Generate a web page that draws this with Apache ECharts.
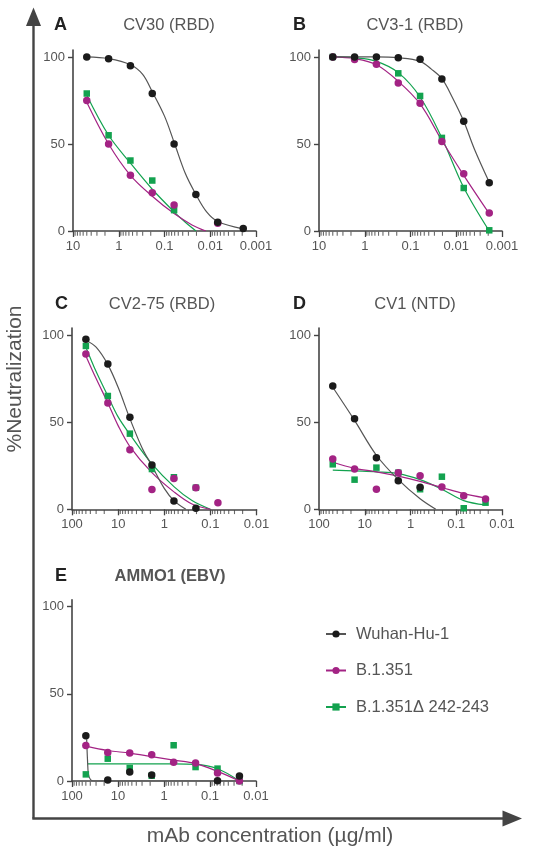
<!DOCTYPE html>
<html><head><meta charset="utf-8">
<script src="https://cdn.jsdelivr.net/npm/echarts@6/dist/echarts.min.js"></script>
<style>html,body{margin:0;padding:0;background:#fff}#c{width:547px;height:853px}</style>
</head><body><div id="c"></div>
<script>
// ---- tick labels ----
const xTicksAB = [10, 1, 0.1, 0.01, 0.001];
const xTicksCDE = [100, 10, 1, 0.1, 0.01];
const yTicks = [0, 50, 100];
const seriesNames = ['Wuhan-Hu-1', 'B.1.351', 'B.1.351\u0394 242-243'];
const panelTitles = ['CV30 (RBD)', 'CV3-1 (RBD)', 'CV2-75 (RBD)', 'CV1 (NTD)', 'AMMO1 (EBV)'];
const panelLetters = ['A', 'B', 'C', 'D', 'E'];

// ---- concentrations (µg/ml) ----
const concAB = [5, 1.667, 0.556, 0.185, 0.0617, 0.0206, 0.00686, 0.0019];
const concCDE = [50, 16.7, 5.56, 1.85, 0.617, 0.206, 0.0686, 0.0229];

// ---- measured points (% neutralization) ----
const A_wuhan = [100, 99, 95, 79, 50, 21, 5, 1.5];
const A_b1351 = [75, 50, 32, 22, 15, null, 4.4, null];
const A_del   = [79, 55, 40.5, 29, 12, null, null, null];

const B_wuhan = [100, 100, 100, 99.6, 98.7, 87.4, 63, 27.7];
const B_b1351 = [100, 98.5, 95.8, 85.1, 73.4, 51.4, 32.9, 10.3];
const B_del   = [100, null, null, 90.6, 77.6, 53.5, 24.7, 0.4];

const C_wuhan = [97.5, 83.4, 52.8, 25.4, 4.8, 0.6, null, null];
const C_b1351 = [89.1, 61, 34.2, 11.3, 17.6, 12.4, 3.8, null];
const C_del   = [93.7, 65, 43.4, 23.1, 18.4, 12.4, null, null];

const D_wuhan = [70.7, 52, 29.6, 16.4, 12.6, null, null, null];
const D_b1351 = [28.9, 23.1, 11.5, 21, 19.3, 12.8, 7.8, 5.9];
const D_del   = [25.8, 17, 23.9, 21, 11.5, 18.7, 0.6, 3.8];

const E_wuhan = [26, 0.6, 5.2, 3.4, null, null, 0.2, 2.9];
const E_b1351 = [20.3, 16.4, 16, 15.1, 10.7, 10.3, 4.6, 0];
const E_del   = [3.8, 12.8, 7.5, 3, 20.5, 8, 7.1, 0];

// ---- fitted curves: [conc, %] ----
const fitA_wuhan = [[5,100],[1.667,99],[0.556,95.5],[0.3,90],[0.185,80],[0.1,66],[0.0617,51],[0.035,33],[0.0206,21],[0.012,11],[0.00686,5.5],[0.0019,1.2]];
const fitA_b1351 = [[5,74],[1.667,50],[0.556,32],[0.185,20],[0.0617,10],[0.025,3.5],[0.0125,0]];
const fitA_del   = [[5,78],[1.667,55],[0.556,39],[0.185,24],[0.0617,11],[0.035,5],[0.0205,0]];

const fitB_wuhan = [[5,100],[0.556,100],[0.185,99.5],[0.0617,97.5],[0.035,93],[0.0206,87.5],[0.0123,77],[0.00686,63],[0.004,47],[0.0019,28]];
const fitB_b1351 = [[5,100],[1.667,99],[0.556,95.5],[0.185,86],[0.0617,73],[0.0206,52],[0.00686,32],[0.0019,10]];
const fitB_del   = [[5,100],[1.667,99.5],[0.556,97.5],[0.185,91],[0.0617,77],[0.0206,53.5],[0.00686,25],[0.0019,0]];

const fitC_wuhan = [[50,97],[30,93],[16.7,83],[10,70],[5.56,52],[3,35],[1.85,25],[1,12],[0.617,5],[0.34,0]];
const fitC_b1351 = [[50,88],[30,75],[16.7,61],[10,48],[5.56,36],[1.85,21],[0.617,10],[0.25,3],[0.1,0]];
const fitC_del   = [[50,93],[30,79],[16.7,65],[10,53],[5.56,43],[1.85,26],[0.617,13],[0.25,5],[0.1,0]];

const fitD_wuhan = [[50,70],[16.7,51],[5.56,31],[1.85,17],[0.617,6],[0.28,0]];
const fitD_b1351 = [[50,27],[16.7,23.5],[5.56,21.5],[1.85,19],[0.617,16],[0.206,12.5],[0.0686,9],[0.023,6.5]];
const fitD_del   = [[50,22.5],[16.7,22],[5.56,21.5],[1.85,20.5],[0.617,17],[0.206,11.5],[0.0686,5],[0.023,2.5]];

const fitE_wuhan = [[48,24],[46,12],[44,4],[40,1],[34,0],[0.0229,0]];
const fitE_b1351 = [[50,20],[16.7,17.5],[5.56,16],[1.85,14],[0.617,12],[0.206,10],[0.0686,5.5],[0.0229,0]];
const fitE_del   = [[46,9.8],[0.617,9.8],[0.206,9.5],[0.0686,7],[0.0229,0]];

// ---- styling ----
const FONT = '"Liberation Sans", Arial, sans-serif';
const AX = '#444';
const TXT = '#555';
const COLORS = ['#1b1b1b', '#a32384', '#13a24f'];
const LINECOLORS = ['#555555', '#a32384', '#13a24f'];
const SYMBOLS = ['circle', 'circle', 'rect'];
const SIZES = [7.5, 7.5, 6.5];

const grids = [
  {left: 73, top: 50, width: 183, height: 181},
  {left: 319, top: 50, width: 183, height: 181},
  {left: 72, top: 328, width: 184.5, height: 181.3},
  {left: 319, top: 328, width: 183, height: 181.3},
  {left: 72, top: 599.7, width: 184, height: 181.3}
];

const panels = [
  {conc: concAB, pts: [A_wuhan, A_b1351, A_del], fits: [fitA_wuhan, fitA_b1351, fitA_del], ticks: xTicksAB},
  {conc: concAB, pts: [B_wuhan, B_b1351, B_del], fits: [fitB_wuhan, fitB_b1351, fitB_del], ticks: xTicksAB},
  {conc: concCDE, pts: [C_wuhan, C_b1351, C_del], fits: [fitC_wuhan, fitC_b1351, fitC_del], ticks: xTicksCDE},
  {conc: concCDE, pts: [D_wuhan, D_b1351, D_del], fits: [fitD_wuhan, fitD_b1351, fitD_del], ticks: xTicksCDE},
  {conc: concCDE, pts: [E_wuhan, E_b1351, E_del], fits: [fitE_wuhan, fitE_b1351, fitE_del], ticks: xTicksCDE}
];

// log-axis minor tick positions (2..9 × each decade)
function minorTicks(ticks) {
  const out = [];
  const lo = Math.min(...ticks);
  const hi = Math.max(...ticks);
  for (let d = lo; d < hi * 0.999; d *= 10) {
    for (let k = 2; k <= 9; k++) out.push(+(d * k).toPrecision(6));
  }
  return out;
}

const xAxes = [], yAxes = [], series = [];
panels.forEach((p, i) => {
  const mn = Math.min(...p.ticks), mx = Math.max(...p.ticks);
  xAxes.push({
    type: 'log', gridIndex: i, min: mn, max: mx, inverse: true,
    axisLine: {show: true, lineStyle: {color: AX, width: 1.6}},
    axisTick: {customValues: p.ticks, length: 6, lineStyle: {color: AX, width: 1.3}},
    axisLabel: {customValues: p.ticks, color: TXT, fontSize: 13, fontFamily: FONT, margin: 9},
    splitLine: {show: false}
  });
  yAxes.push({
    type: 'value', gridIndex: i, min: 0, max: 104,
    axisLine: {show: true, lineStyle: {color: AX, width: 1.6}},
    axisTick: {show: true, customValues: yTicks, length: 5, lineStyle: {color: AX, width: 1.4}},
    axisLabel: {show: true, customValues: yTicks, color: TXT, fontSize: 13, fontFamily: FONT, margin: 8},
    splitLine: {show: false}
  });
});

// minor log ticks: small bars hung under the x axis, placed by the axis scale
panels.forEach((p, i) => {
  series.push({
    type: 'scatter', name: 'minor' + i, xAxisIndex: i, yAxisIndex: i,
    data: minorTicks(p.ticks).map(v => [v, 0]),
    symbol: 'rect', symbolSize: [1.1, 4], symbolOffset: [0, 2.8],
    itemStyle: {color: AX}, clip: false, silent: true, z: 1, animation: false,
    emphasis: {disabled: true}
  });
});

// curves first (drawn below), then points; order green, magenta, black so black is on top
panels.forEach((p, i) => {
  [2, 1, 0].forEach(s => {
    series.push({
      type: 'line', name: seriesNames[s], xAxisIndex: i, yAxisIndex: i,
      data: p.fits[s], smooth: 0.35, showSymbol: false, symbol: SYMBOLS[s],
      itemStyle: {color: COLORS[s]},
      lineStyle: {color: LINECOLORS[s], width: 1.2},
      z: 2, silent: true, animation: false
    });
  });
});
panels.forEach((p, i) => {
  [2, 1, 0].forEach(s => {
    const data = [];
    p.conc.forEach((c, k) => { if (p.pts[s][k] !== null) data.push([c, p.pts[s][k]]); });
    series.push({
      type: 'scatter', name: 'pts' + i + '_' + s, xAxisIndex: i, yAxisIndex: i,
      data: data, symbol: SYMBOLS[s], symbolSize: SIZES[s],
      itemStyle: {color: COLORS[s], opacity: 1}, z: 3, silent: true, animation: false
    });
  });
});

const titleCenters = [[164, 20], [410, 20], [157, 299], [410, 299], [165, 571]];
const letterPos = [[49, 20], [288, 20], [50, 299], [288, 299], [50, 571]];
const titles = [];
panelTitles.forEach((t, i) => {
  titles.push({
    text: t, left: titleCenters[i][0], top: titleCenters[i][1], textAlign: 'center', textVerticalAlign: 'middle',
    textStyle: {fontFamily: FONT, fontSize: 16.5, fontWeight: i === 4 ? 'bold' : 'normal', color: TXT}
  });
  titles.push({
    text: panelLetters[i], left: letterPos[i][0], top: letterPos[i][1], textVerticalAlign: 'middle',
    textStyle: {fontFamily: FONT, fontSize: 18, fontWeight: 'bold', color: '#222'}
  });
});

const chart = echarts.init(document.getElementById('c'), null, {renderer: 'canvas'});
chart.setOption({
  backgroundColor: '#fff',
  animation: false,
  title: titles,
  grid: grids,
  xAxis: xAxes,
  yAxis: yAxes,
  series: series,
  legend: {
    data: seriesNames, orient: 'vertical', left: 325, top: 624, padding: 0,
    itemWidth: 20, itemHeight: 9, itemGap: 16.5,
    textStyle: {fontFamily: FONT, fontSize: 16.5, color: TXT, padding: [0, 0, 0, 5], lineHeight: 20},
    selectedMode: false
  },
  graphic: [
    {type: 'line', shape: {x1: 33.5, y1: 22, x2: 33.5, y2: 818.5}, style: {stroke: AX, lineWidth: 2.4}, silent: true},
    {type: 'polygon', shape: {points: [[33.5, 7.5], [26, 26], [41, 26]]}, style: {fill: AX}, silent: true},
    {type: 'line', shape: {x1: 32.3, y1: 818.5, x2: 506, y2: 818.5}, style: {stroke: AX, lineWidth: 2.4}, silent: true},
    {type: 'polygon', shape: {points: [[522, 818.5], [502.5, 810.5], [502.5, 826.5]]}, style: {fill: AX}, silent: true},
    {type: 'text', x: 15, y: 379, rotation: Math.PI / 2,
      style: {text: '%Neutralization', fontFamily: FONT, fontSize: 21, fill: TXT, align: 'center', verticalAlign: 'middle'}, silent: true},
    {type: 'text', x: 270, y: 836,
      style: {text: 'mAb concentration (\u00b5g/ml)', fontFamily: FONT, fontSize: 21, fill: TXT, align: 'center', verticalAlign: 'middle'}, silent: true}
  ]
});
</script></body></html>
